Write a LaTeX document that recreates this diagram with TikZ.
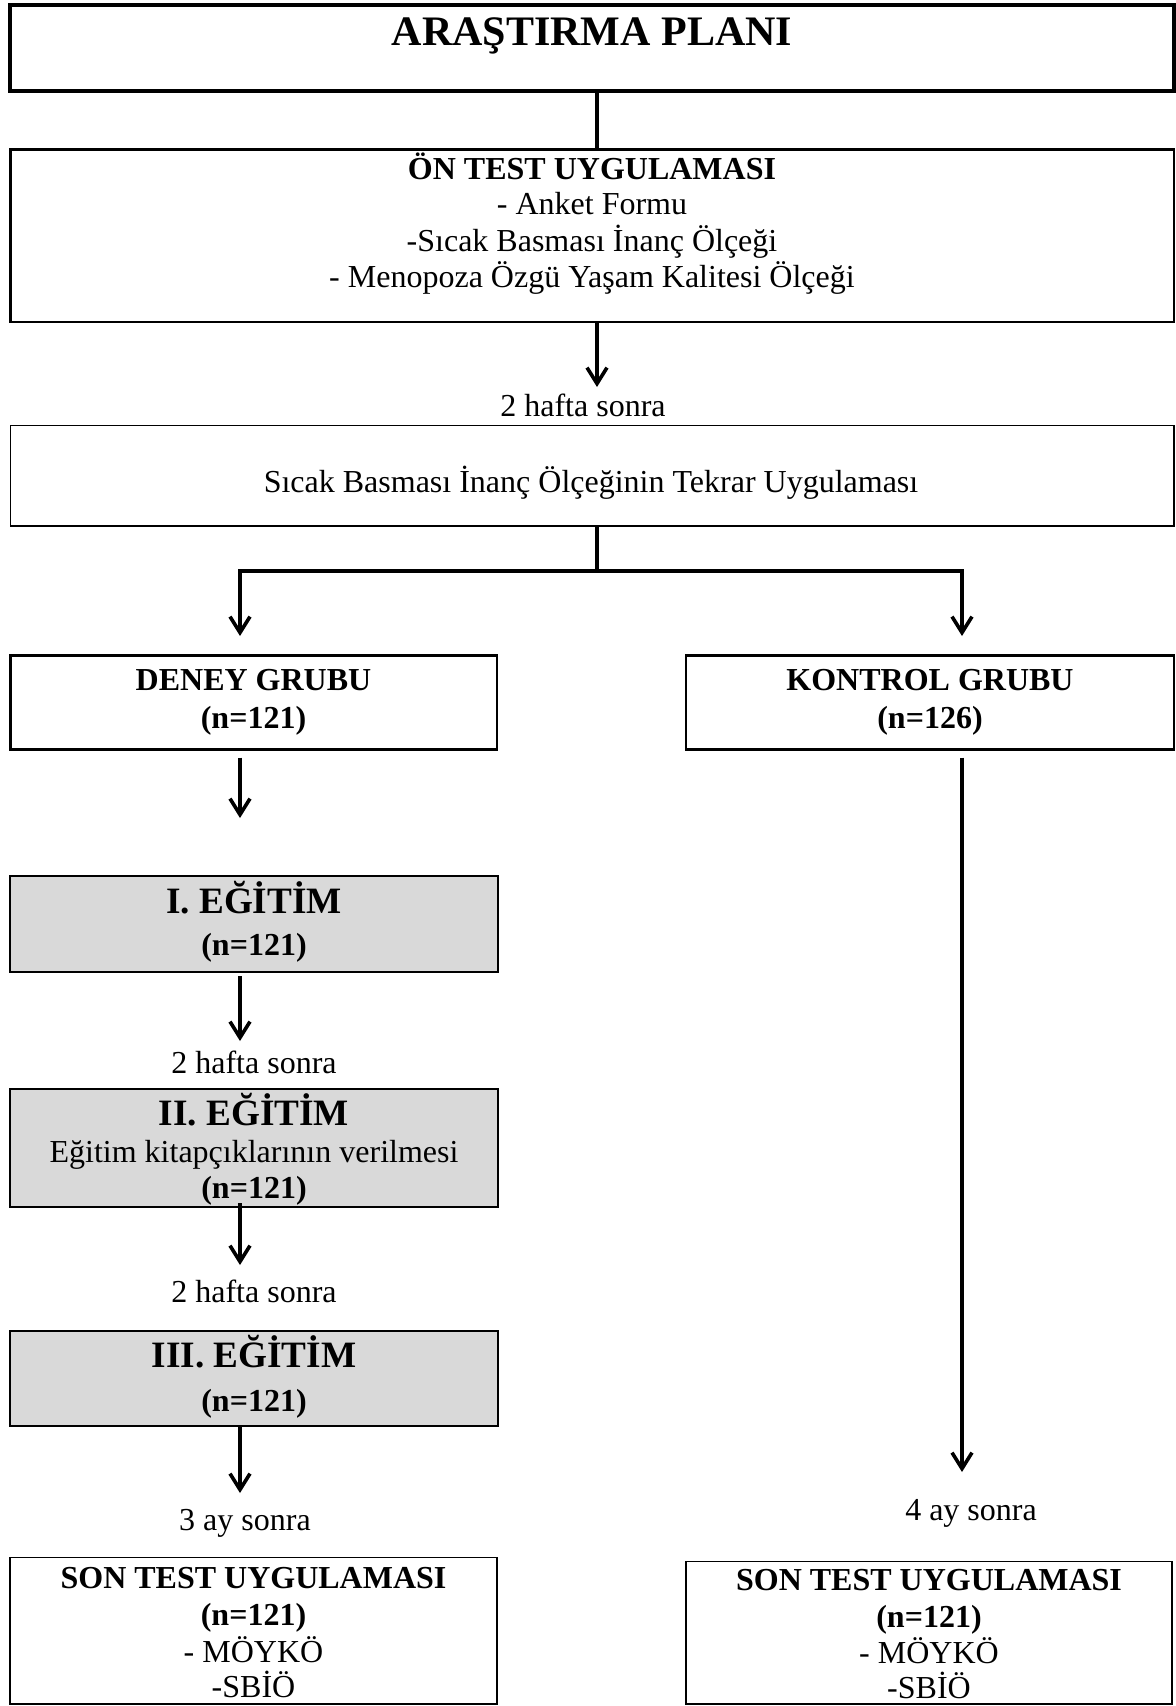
\documentclass[tikz,border=0pt]{standalone}
\usepackage{fontspec}
\setmainfont{Liberation Serif}
\usetikzlibrary{arrows.meta,fit}
\definecolor{boxgray}{HTML}{D9D9D9}
\begin{document}
\begin{tikzpicture}[x=0.5pt,y=-0.5pt,
  box/.style={draw, inner sep=0pt, outer sep=0pt, rectangle},
  grayb/.style={box, fill=boxgray, line width=0.85pt},
  txt/.style={anchor=base, inner sep=0pt, font=\fontsize{16}{19}\selectfont},
  btxt/.style={anchor=base, inner sep=0pt, font=\fontsize{16}{19}\selectfont\bfseries},
  htxt/.style={anchor=base, inner sep=0pt, font=\fontsize{18.6}{22}\selectfont\bfseries},
  ttxt/.style={anchor=base, inner sep=0pt, font=\fontsize{21}{25}\selectfont\bfseries},
  conn/.style={line width=1.8pt},
  arr/.style={conn, -{Straight Barb[length=8pt,width=10pt]}}
]
\useasboundingbox (0,0) rectangle (1176,1706);

% boxes
\node[box, line width=2pt, fit={(10,5)(1174,91)}] (title) {};
\node[box, line width=1.35pt, fit={(10.5,149.5)(1174,322)}] (ontest) {};
\node[box, line width=0.6pt, fit={(10.5,425.5)(1174,526)}] (tekrar) {};
\node[box, line width=1.4pt, fit={(10.5,655.5)(497,749.5)}] (deney) {};
\node[box, line width=1.4pt, fit={(686,655.5)(1174,749.5)}] (kontrol) {};
\node[grayb, fit={(10,876)(498,972)}] (egt1) {};
\node[grayb, fit={(10,1089)(498,1207)}] (egt2) {};
\node[grayb, fit={(10,1331)(498,1426)}] (egt3) {};
\node[box, line width=0.6pt, fit={(10,1557.5)(497,1704)}] (son1) {};
\node[box, line width=0.6pt, fit={(686,1561.5)(1172,1704)}] (son2) {};

% texts
\node[ttxt] (ttl) at (592,46) {ARAŞTIRMA PLANI};
\node[btxt] (on1) at (592,180) {ÖN TEST UYGULAMASI};
\node[txt] (on2) at (592,215) {- Anket Formu};
\node[txt] (on3) at (592,252) {-Sıcak Basması İnanç Ölçeği};
\node[txt] (on4) at (592,288) {- Menopoza Özgü Yaşam Kalitesi Ölçeği};
\node[txt] (l1) at (583,416) {2 hafta sonra};
\node[txt] (tk) at (591,492) {Sıcak Basması İnanç Ölçeğinin Tekrar Uygulaması};
\node[btxt] (d1) at (253.5,690) {DENEY GRUBU};
\node[btxt] (d2) at (253.5,728) {(n=121)};
\node[btxt] (k1) at (930,690) {KONTROL GRUBU};
\node[btxt] (k2) at (930,728) {(n=126)};
\node[htxt] (e11) at (254,913) {I. EĞİTİM};
\node[btxt] (e12) at (254,955) {(n=121)};
\node[txt] (l2) at (254,1073) {2 hafta sonra};
\node[htxt] (e21) at (254,1125) {II. EĞİTİM};
\node[txt] (e22) at (254,1162) {Eğitim kitapçıklarının verilmesi};
\node[btxt] (e23) at (254,1198) {(n=121)};
\node[txt] (l3) at (254,1302) {2 hafta sonra};
\node[htxt] (e31) at (254,1367) {III. EĞİTİM};
\node[btxt] (e32) at (254,1411) {(n=121)};
\node[txt] (l4) at (245,1530) {3 ay sonra};
\node[btxt] (s11) at (253.5,1588) {SON TEST UYGULAMASI};
\node[btxt] (s12) at (253.5,1625) {(n=121)};
\node[txt] (s13) at (253.5,1662) {- MÖYKÖ};
\node[txt] (s14) at (253.5,1697) {-SBİÖ};
\node[txt] (l5) at (971,1520) {4 ay sonra};
\node[btxt] (s21) at (929,1590) {SON TEST UYGULAMASI};
\node[btxt] (s22) at (929,1627) {(n=121)};
\node[txt] (s23) at (929,1663) {- MÖYKÖ};
\node[txt] (s24) at (929,1698) {-SBİÖ};

% connector coordinates
\coordinate (cx) at (597,0);
\coordinate (a1) at (597,387);
\coordinate (bar) at (597,571);
\coordinate (aL) at (240,636);
\coordinate (aR) at (962,636);
\coordinate (aD) at (240,818);
\coordinate (aE1) at (240,1041);
\coordinate (aE2) at (240,1265);
\coordinate (aE3) at (240,1493);
\coordinate (aK) at (962,1472);

% connectors
\draw[conn] (title.south -| cx) -- (ontest.north -| cx);
\draw[arr] (ontest.south -| cx) -- (a1);
\draw[conn] (tekrar.south -| cx) -- (bar);
\draw[arr] (bar) -| (aL);
\draw[arr] (bar) -| (aR);
\draw[arr, shorten <=4pt] (deney.south -| aD) -- (aD);
\draw[arr, shorten <=2pt] (egt1.south -| aE1) -- (aE1);
\draw[arr, shorten <=-2pt] (egt2.south -| aE2) -- (aE2);
\draw[arr] (egt3.south -| aE3) -- (aE3);
\draw[arr, shorten <=4pt] (kontrol.south -| aK) -- (aK);
\end{tikzpicture}
\end{document}
